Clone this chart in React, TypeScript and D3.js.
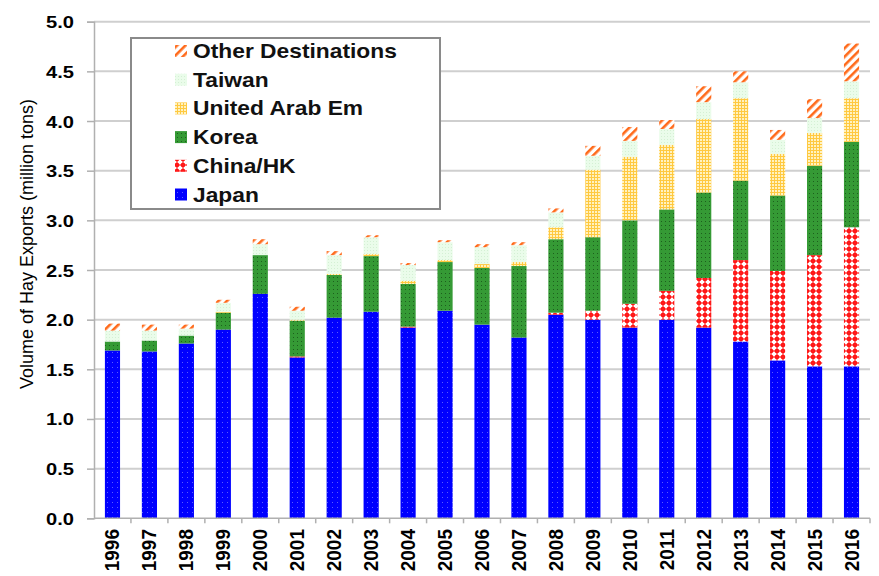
import React, { useRef, useEffect } from 'react';
import * as d3 from 'd3';

const years = ['1996', '1997', '1998', '1999', '2000', '2001', '2002', '2003', '2004', '2005', '2006',
  '2007', '2008', '2009', '2010', '2011', '2012', '2013', '2014', '2015', '2016'];

const japan = [1.69, 1.68, 1.76, 1.90, 2.26, 1.62, 2.02, 2.08, 1.92, 2.09, 1.95, 1.82, 2.05, 2.00, 1.92, 2.00, 1.92, 1.78, 1.59, 1.53, 1.53];
const chinaHK = [0, 0, 0, 0, 0, 0.01, 0, 0, 0.01, 0, 0, 0, 0.02, 0.09, 0.24, 0.29, 0.50, 0.82, 0.90, 1.12, 1.40];
const korea = [0.09, 0.11, 0.08, 0.17, 0.39, 0.36, 0.43, 0.56, 0.43, 0.49, 0.57, 0.72, 0.74, 0.74, 0.84, 0.82, 0.86, 0.80, 0.76, 0.90, 0.86];
const uae = [0, 0, 0, 0.01, 0, 0.01, 0.01, 0.02, 0.03, 0.02, 0.04, 0.04, 0.12, 0.68, 0.64, 0.65, 0.74, 0.83, 0.42, 0.33, 0.44];
const taiwan = [0.11, 0.10, 0.07, 0.09, 0.11, 0.09, 0.19, 0.17, 0.16, 0.18, 0.17, 0.17, 0.15, 0.14, 0.16, 0.16, 0.17, 0.16, 0.14, 0.15, 0.17];
const other = [0.07, 0.06, 0.04, 0.03, 0.05, 0.04, 0.04, 0.02, 0.02, 0.02, 0.03, 0.03, 0.04, 0.10, 0.14, 0.09, 0.16, 0.11, 0.10, 0.19, 0.38];

const seriesKeys = ['japan', 'chinaHK', 'korea', 'uae', 'taiwan', 'other'];
const seriesNames = ['Japan', 'China/HK', 'Korea', 'United Arab Em', 'Taiwan', 'Other Destinations'];
const yTicks = [0, 0.5, 1, 1.5, 2, 2.5, 3, 3.5, 4, 4.5, 5];

const W = 879;
const H = 576;

const App: React.FC = () => {
  const ref = useRef<SVGSVGElement>(null);

  useEffect(() => {
    if (!ref.current) return;
    const svg = d3.select(ref.current);
    svg.selectAll('*').remove();

    const rows = years.map((yr, i) => ({
      year: yr, japan: japan[i], chinaHK: chinaHK[i], korea: korea[i],
      uae: uae[i], taiwan: taiwan[i], other: other[i],
    }));

    const x = d3.scaleBand().domain(years).range([94, 870]).paddingInner(0.59).paddingOuter(0.295);
    const y = d3.scaleLinear().domain([0, 5]).range([518.3, 21.7]);

    // patterns
    const defs = svg.append('defs');
    const pJapan = defs.append('pattern').attr('id', 'p-japan').attr('patternUnits', 'userSpaceOnUse').attr('width', 5).attr('height', 5);
    pJapan.append('rect').attr('width', 5).attr('height', 5).attr('fill', '#0000ff');
    pJapan.append('rect').attr('x', 2).attr('y', 2).attr('width', 1).attr('height', 1).attr('fill', '#5a5aff');

    const pChina = defs.append('pattern').attr('id', 'p-china').attr('patternUnits', 'userSpaceOnUse').attr('width', 6).attr('height', 6);
    pChina.append('rect').attr('width', 6).attr('height', 6).attr('fill', '#ffffff');
    pChina.append('circle').attr('cx', 3).attr('cy', 3).attr('r', 2.3).attr('fill', '#ff0000');
    pChina.append('rect').attr('x', 2.4).attr('y', 0).attr('width', 1.2).attr('height', 6).attr('fill', '#ff2020');
    pChina.append('rect').attr('x', 0).attr('y', 2.4).attr('width', 6).attr('height', 1.2).attr('fill', '#ff2020');

    const pKorea = defs.append('pattern').attr('id', 'p-korea').attr('patternUnits', 'userSpaceOnUse').attr('width', 4).attr('height', 4);
    pKorea.append('rect').attr('width', 4).attr('height', 4).attr('fill', '#359a35');
    pKorea.append('rect').attr('x', 1).attr('y', 1).attr('width', 1).attr('height', 1).attr('fill', '#1d5f1d');

    const pUae = defs.append('pattern').attr('id', 'p-uae').attr('patternUnits', 'userSpaceOnUse').attr('width', 3).attr('height', 3);
    pUae.append('rect').attr('width', 3).attr('height', 3).attr('fill', '#fff2c0');
    pUae.append('rect').attr('x', 0).attr('y', 0).attr('width', 3).attr('height', 1).attr('fill', '#ffc940');
    pUae.append('rect').attr('x', 0).attr('y', 0).attr('width', 1).attr('height', 3).attr('fill', '#ffc940');

    const pTaiwan = defs.append('pattern').attr('id', 'p-taiwan').attr('patternUnits', 'userSpaceOnUse').attr('width', 3).attr('height', 3);
    pTaiwan.append('rect').attr('width', 3).attr('height', 3).attr('fill', '#eafcea');
    pTaiwan.append('rect').attr('x', 1).attr('y', 1).attr('width', 1).attr('height', 1).attr('fill', '#d4f0d4');

    const pOther = defs.append('pattern').attr('id', 'p-other').attr('patternUnits', 'userSpaceOnUse')
      .attr('width', 6).attr('height', 6).attr('patternTransform', 'rotate(45)');
    pOther.append('rect').attr('width', 6).attr('height', 6).attr('fill', '#ffffff');
    pOther.append('rect').attr('x', 0).attr('y', 0).attr('width', 2.6).attr('height', 6).attr('fill', '#ff6a1a');

    const fills: Record<string, string> = {
      japan: 'url(#p-japan)', chinaHK: 'url(#p-china)', korea: 'url(#p-korea)',
      uae: 'url(#p-uae)', taiwan: 'url(#p-taiwan)', other: 'url(#p-other)',
    };

    // Grid
    svg.append('g')
      .selectAll('line')
      .data(yTicks.filter(t => t > 0))
      .enter()
      .append('line')
      .attr('x1', 94).attr('x2', 870)
      .attr('y1', d => y(d)).attr('y2', d => y(d))
      .attr('stroke', '#cfcfcf').attr('stroke-width', 2);

    // Bars
    const stacked = d3.stack<any>().keys(seriesKeys)(rows);
    svg.append('g')
      .selectAll('g')
      .data(stacked)
      .enter()
      .append('g')
      .attr('fill', d => fills[d.key])
      .selectAll('rect')
      .data(d => d)
      .enter()
      .append('rect')
      .attr('x', d => x(d.data.year)!)
      .attr('width', x.bandwidth())
      .attr('y', d => y(d[1]))
      .attr('height', d => Math.max(0, y(d[0]) - y(d[1])));

    // Y axis
    const yAxis = svg.append('g')
      .attr('transform', 'translate(94,0)')
      .call(d3.axisLeft(y).tickValues(yTicks).tickFormat(d3.format('.1f')).tickSize(7).tickPadding(0));
    yAxis.select('.domain').attr('stroke', '#b0b0b0').attr('stroke-width', 1.5);
    yAxis.selectAll('.tick line').attr('stroke', '#b0b0b0').attr('stroke-width', 1.5);
    yAxis.selectAll('.tick text').remove();
    yAxis.selectAll('.tick')
      .append('text')
      .attr('transform', 'translate(-20,6) scale(1.22,1)')
      .attr('text-anchor', 'end')
      .attr('fill', '#000')
      .attr('font-family', 'Liberation Sans, Arial, sans-serif')
      .attr('font-weight', 'bold')
      .attr('font-size', 16.5)
      .text(d => d3.format('.1f')(d as number));

    // X axis
    svg.append('line')
      .attr('x1', 94).attr('x2', 870).attr('y1', y(0)).attr('y2', y(0))
      .attr('stroke', '#b0b0b0').attr('stroke-width', 1.5);
    const step = x.step();
    const bounds = years.map(yr => x(yr)! + x.bandwidth() / 2 + step / 2);
    svg.append('g')
      .selectAll('line')
      .data(bounds)
      .enter()
      .append('line')
      .attr('x1', d => d).attr('x2', d => d)
      .attr('y1', y(0)).attr('y2', y(0) + 5)
      .attr('stroke', '#b0b0b0').attr('stroke-width', 1.5);

    svg.append('g')
      .selectAll('text')
      .data(years)
      .enter()
      .append('text')
      .attr('transform', d => `translate(${x(d)! + x.bandwidth() / 2 + 7},529) scale(1.08,1) rotate(-90)`)
      .attr('text-anchor', 'end')
      .attr('font-family', 'Liberation Sans, Arial, sans-serif')
      .attr('font-weight', 'bold')
      .attr('font-size', 19)
      .attr('fill', '#000')
      .text(d => d);

    // Y title
    svg.append('text')
      .attr('transform', 'translate(33,244) rotate(-90)')
      .attr('text-anchor', 'middle')
      .attr('font-family', 'Liberation Sans, Arial, sans-serif')
      .attr('font-size', 18)
      .attr('fill', '#000')
      .text('Volume of Hay Exports (million tons)');

    // Legend
    const legend = svg.append('g');
    legend.append('rect')
      .attr('x', 131).attr('y', 38).attr('width', 309).attr('height', 171)
      .attr('fill', '#fff').attr('stroke', '#8a8a8a').attr('stroke-width', 2);
    const order = [...seriesKeys].reverse();
    const names = [...seriesNames].reverse();
    order.forEach((k, i) => {
      const cy = 51 + i * 28.7;
      legend.append('rect')
        .attr('x', 175).attr('y', cy - 6).attr('width', 12).attr('height', 12)
        .attr('fill', fills[k]);
      legend.append('text')
        .attr('transform', `translate(193,${cy + 7}) scale(1.14,1)`)
        .attr('font-family', 'Liberation Sans, Arial, sans-serif')
        .attr('font-weight', 'bold')
        .attr('font-size', 20)
        .attr('fill', '#111')
        .text(names[i]);
    });
  }, []);

  return (
    <svg ref={ref} width={W} height={H}
      style={{ position: 'fixed', left: 0, top: 0, background: '#fff', display: 'block' }} />
  );
};

export default App;
